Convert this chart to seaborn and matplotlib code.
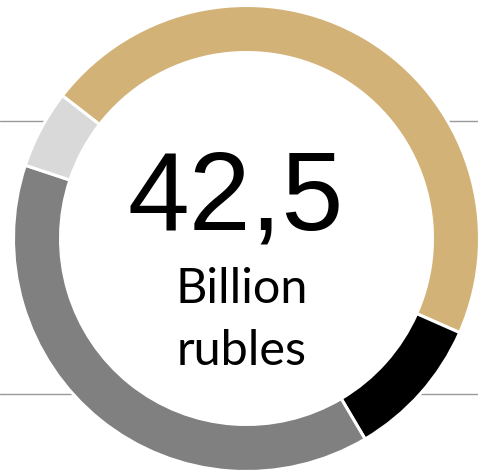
import matplotlib
matplotlib.use("Agg")
import matplotlib.pyplot as plt
import seaborn as sns

# Data (billion rubles)
categories = ["Segment A", "Segment B", "Segment C", "Segment D"]
values = [19.6, 4.2, 16.4, 2.3]
colors = ["#D3B277", "#000000", "#808080", "#D9D9D9"]
total_label = "42,5"
unit_top = "Billion"
unit_bottom = "rubles"

sns.set_theme(style="white")
plt.rcParams["font.family"] = ["Liberation Sans", "DejaVu Sans"]

W, H = 478, 472
fig = plt.figure(figsize=(W / 100, H / 100), dpi=100)
ax = fig.add_axes([0, 0, 1, 1])

cx, cy = 246.5, H - 238.5
R = 233
ring = 47

# background guide lines
for y in (121, 393.5):
    ax.axhline(H - y, color="#999999", linewidth=1, zorder=0)

ax.pie(values, colors=colors, startangle=142.2, counterclock=False,
       radius=R, center=(cx, cy),
       wedgeprops=dict(width=ring, edgecolor="white", linewidth=2.2, zorder=2))
ax.add_patch(plt.Circle((cx, cy), R - ring, facecolor="white", edgecolor="none", zorder=1))

ax.set_xlim(0, W)
ax.set_ylim(0, H)
ax.set_aspect("equal")
ax.axis("off")

ax.text(236, H - 230, total_label, ha="center", va="baseline",
        fontsize=80, color="black", family=["Liberation Sans", "DejaVu Sans"])
ax.text(241.5, H - 303, unit_top, ha="center", va="baseline",
        fontsize=35, fontweight="normal", color="black", family=["Lato", "DejaVu Sans"])
ax.text(242, H - 365, unit_bottom, ha="center", va="baseline",
        fontsize=35, fontweight="normal", color="black", family=["Lato", "DejaVu Sans"])

fig.savefig("out.png", dpi=100, facecolor="white")
